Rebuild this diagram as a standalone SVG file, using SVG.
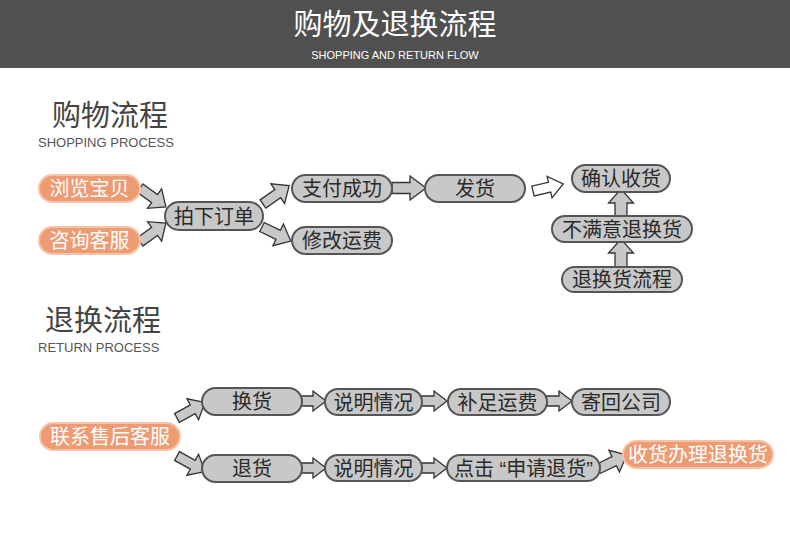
<svg xmlns="http://www.w3.org/2000/svg" width="790" height="534" viewBox="0 0 790 534">
<style>
.g rect{fill:#c8c8c8;stroke:#555;stroke-width:2}
.o rect{fill:#ee9b73;stroke:#f6c3a6;stroke-width:2}
.g text{fill:#2a2a2a;font-family:"Noto Sans CJK SC",sans-serif;font-size:20px;text-anchor:middle}
.o text{fill:#fff;font-family:"Noto Sans CJK SC",sans-serif;font-size:20px;text-anchor:middle}
.q{font-family:"Liberation Sans",Arial,sans-serif}
.arr use,.arr path{fill:#c8c8c8;stroke:#333;stroke-width:1.3;stroke-linejoin:miter}
.arr path.w{fill:#fff}
.h1{font-family:"Noto Sans CJK SC",sans-serif;fill:#444;font-size:29px}
.h2{font-family:"Liberation Sans",Arial,sans-serif;fill:#555;font-size:13px}
</style>
<defs>
<path id="a32" d="M0,-5 L18,-5 L18,-12 L32,0 L18,12 L18,5 L0,5 Z"/>
<path id="a34" d="M0,-5.5 L18,-5.5 L18,-12 L34,0 L18,12 L18,5.5 L0,5.5 Z"/>
<path id="a26" d="M0,-5 L13,-5 L13,-10 L26,0 L13,10 L13,5 L0,5 Z"/>
<path id="a28" d="M0,-6 L14,-6 L14,-12.5 L28,0 L14,12.5 L14,6 L0,6 Z"/>
</defs>
<rect x="0" y="0" width="790" height="534" fill="#fff"/>
<rect x="0" y="0" width="790" height="68" fill="#505050"/>
<text x="395" y="35" fill="#fff" font-family="Noto Sans CJK SC,sans-serif" font-size="29" text-anchor="middle">购物及退换流程</text>
<text x="395" y="59" fill="#fff" font-family="Liberation Sans,Arial,sans-serif" font-size="11" text-anchor="middle">SHOPPING AND RETURN FLOW</text>
<text class="h1" x="52" y="126">购物流程</text>
<text class="h2" x="38" y="147">SHOPPING PROCESS</text>
<text class="h1" x="45" y="331">退换流程</text>
<text class="h2" x="38" y="352">RETURN PROCESS</text>
<g id="connectors" class="arr">
<use href="#a32" transform="translate(140,188) rotate(36)"/>
<use href="#a32" transform="translate(140,242) rotate(-36)"/>
<use href="#a32" transform="translate(263,204) rotate(-35)"/>
<use href="#a32" transform="translate(262,227) rotate(26)"/>
<use href="#a34" transform="translate(392,188)"/>
<path class="w" d="M0,-5 L17,-5 L17,-11 L31,0 L17,11 L17,5 L0,5 Z" transform="translate(533,191) rotate(-13)"/>
<use href="#a28" transform="translate(621,217) rotate(-90)"/>
<use href="#a28" transform="translate(621,267) rotate(-90)"/>
<use href="#a32" transform="translate(177,418) rotate(-29)"/>
<use href="#a32" transform="translate(177,456) rotate(29)"/>
<use href="#a26" transform="translate(300,401)"/>
<use href="#a26" transform="translate(300,468)"/>
<use href="#a26" transform="translate(421,401)"/>
<use href="#a26" transform="translate(546,401)"/>
<use href="#a26" transform="translate(421,468)"/>
<use href="#a32" transform="translate(598,469) rotate(-26)"/>
</g>
<g id="n1" class="o"><rect x="39" y="175" width="101" height="27" rx="13.5"/><text x="89.5" y="196">浏览宝贝</text></g>
<g id="n2" class="o"><rect x="39" y="227" width="101" height="27" rx="13.5"/><text x="89.5" y="248">咨询客服</text></g>
<g id="n3" class="g"><rect x="165" y="202" width="98" height="28" rx="14"/><text x="214" y="223.5">拍下订单</text></g>
<g id="n4" class="g"><rect x="292" y="175" width="100" height="27" rx="13.5"/><text x="342" y="196">支付成功</text></g>
<g id="n5" class="g"><rect x="292" y="227" width="100" height="27" rx="13.5"/><text x="342" y="248">修改运费</text></g>
<g id="n6" class="g"><rect x="425" y="175" width="100" height="27" rx="13.5"/><text x="475" y="196">发货</text></g>
<g id="n7" class="g"><rect x="572" y="165" width="98" height="27" rx="13.5"/><text x="621" y="186">确认收货</text></g>
<g id="n8" class="g"><rect x="552" y="216" width="140" height="26" rx="13"/><text x="622" y="236.5">不满意退换货</text></g>
<g id="n9" class="g"><rect x="562" y="267" width="120" height="25" rx="12.5"/><text x="622" y="287">退换货流程</text></g>
<g id="n10" class="o"><rect x="40" y="423" width="140" height="27" rx="13.5"/><text x="110" y="444">联系售后客服</text></g>
<g id="n11" class="g"><rect x="202" y="388" width="100" height="27" rx="13.5"/><text x="252" y="409">换货</text></g>
<g id="n12" class="g"><rect x="202" y="455" width="100" height="27" rx="13.5"/><text x="252" y="476">退货</text></g>
<g id="n13" class="g"><rect x="325" y="389" width="97" height="26" rx="13"/><text x="373.5" y="409.5">说明情况</text></g>
<g id="n14" class="g"><rect x="448" y="389" width="99" height="26" rx="13"/><text x="497.5" y="409.5">补足运费</text></g>
<g id="n15" class="g"><rect x="572" y="389" width="98" height="26" rx="13"/><text x="621" y="409.5">寄回公司</text></g>
<g id="n16" class="g"><rect x="325" y="455" width="97" height="26" rx="13"/><text x="373.5" y="475.5">说明情况</text></g>
<g id="n17" class="g"><rect x="447" y="455" width="153" height="26" rx="13"/><text x="523.5" y="475.5">点击<tspan class="q"> “</tspan>申请退货<tspan class="q">”</tspan></text></g>
<g id="n18" class="o"><rect x="623" y="441" width="150" height="27" rx="13.5"/><text x="698" y="462">收货办理退换货</text></g>
</svg>
